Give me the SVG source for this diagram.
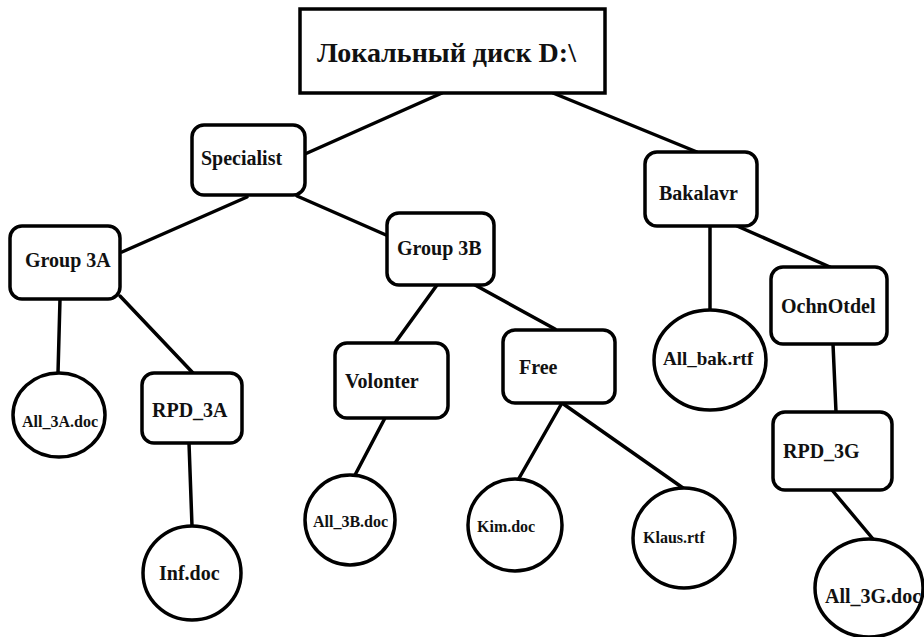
<svg xmlns="http://www.w3.org/2000/svg" width="924" height="637" viewBox="0 0 924 637">
<style>
.n{fill:#fff;stroke:#000;stroke-width:3.5}
.e{stroke:#000;stroke-width:3.5;fill:none;stroke-linecap:round}
text{font-family:"Liberation Serif","Times New Roman",serif;font-weight:bold;fill:#111}
.b{font-size:20px}
.c{font-size:16px}
.r{font-size:28px}
</style>
<rect width="924" height="637" fill="#fff"/>
<g id="connectors">
<line class="e" x1="442" y1="93" x2="305" y2="154"/>
<line class="e" x1="553" y1="93" x2="697" y2="152"/>
<line class="e" x1="247" y1="197" x2="122" y2="252"/>
<line class="e" x1="297" y1="196" x2="386" y2="235"/>
<line class="e" x1="60" y1="299" x2="58" y2="373"/>
<line class="e" x1="120" y1="296" x2="193" y2="373"/>
<line class="e" x1="189" y1="443" x2="192" y2="526"/>
<line class="e" x1="437" y1="285" x2="395" y2="343"/>
<line class="e" x1="475" y1="285" x2="555" y2="329"/>
<line class="e" x1="385" y1="418" x2="355" y2="475"/>
<line class="e" x1="562" y1="403" x2="518" y2="480"/>
<line class="e" x1="562" y1="403" x2="683" y2="488"/>
<line class="e" x1="710" y1="226" x2="710" y2="310"/>
<line class="e" x1="737" y1="226" x2="830" y2="267"/>
<line class="e" x1="833" y1="344" x2="836" y2="412"/>
<line class="e" x1="832" y1="490" x2="873" y2="539"/>
</g>
<g id="root">
<rect class="n" x="300" y="9" width="305" height="84"/>
<text class="r" x="317" y="62">Локальный диск D:\</text>
</g>
<g id="specialist">
<rect class="n" x="192" y="125" width="113" height="70" rx="12"/>
<text class="b" x="201" y="165">Specialist</text>
</g>
<g id="bakalavr">
<rect class="n" x="645" y="152" width="112" height="74" rx="12"/>
<text class="b" x="659" y="200">Bakalavr</text>
</g>
<g id="group3a">
<rect class="n" x="10" y="226" width="110" height="73" rx="12"/>
<text class="b" x="25" y="267">Group 3A</text>
</g>
<g id="group3b">
<rect class="n" x="387" y="213" width="107" height="72" rx="12"/>
<text class="b" x="397" y="255">Group 3B</text>
</g>
<g id="all3a">
<ellipse class="n" cx="59" cy="415" rx="46" ry="42"/>
<text class="c" x="22" y="427">All_3A.doc</text>
</g>
<g id="rpd3a">
<rect class="n" x="142" y="373" width="100" height="70" rx="12"/>
<text class="b" x="152" y="417">RPD_3A</text>
</g>
<g id="infdoc">
<ellipse class="n" cx="192" cy="573" rx="49" ry="47"/>
<text class="b" x="159" y="580">Inf.doc</text>
</g>
<g id="volonter">
<rect class="n" x="335" y="343" width="113" height="75" rx="12"/>
<text class="b" x="345" y="388">Volonter</text>
</g>
<g id="free">
<rect class="n" x="503" y="330" width="112" height="73" rx="12"/>
<text class="b" x="519" y="374">Free</text>
</g>
<g id="all3b">
<ellipse class="n" cx="350" cy="520" rx="45" ry="45"/>
<text class="c" x="313" y="527">All_3B.doc</text>
</g>
<g id="kim">
<ellipse class="n" cx="515" cy="525" rx="47" ry="46"/>
<text class="c" x="477" y="532">Kim.doc</text>
</g>
<g id="klaus">
<ellipse class="n" cx="684" cy="538" rx="51" ry="50"/>
<text class="c" x="643" y="543">Klaus.rtf</text>
</g>
<g id="allbak">
<ellipse class="n" cx="710" cy="360" rx="56" ry="50"/>
<text class="b" x="663" y="365" style="font-size:19px">All_bak.rtf</text>
</g>
<g id="ochnotdel">
<rect class="n" x="771" y="267" width="116" height="77" rx="12"/>
<text class="b" x="781" y="313">OchnOtdel</text>
</g>
<g id="rpd3g">
<rect class="n" x="773" y="412" width="119" height="78" rx="12"/>
<text class="b" x="783" y="458">RPD_3G</text>
</g>
<g id="all3g">
<ellipse class="n" cx="869" cy="588" rx="54" ry="49"/>
<text class="b" x="825" y="603">All_3G.doc</text>
</g>
</svg>
